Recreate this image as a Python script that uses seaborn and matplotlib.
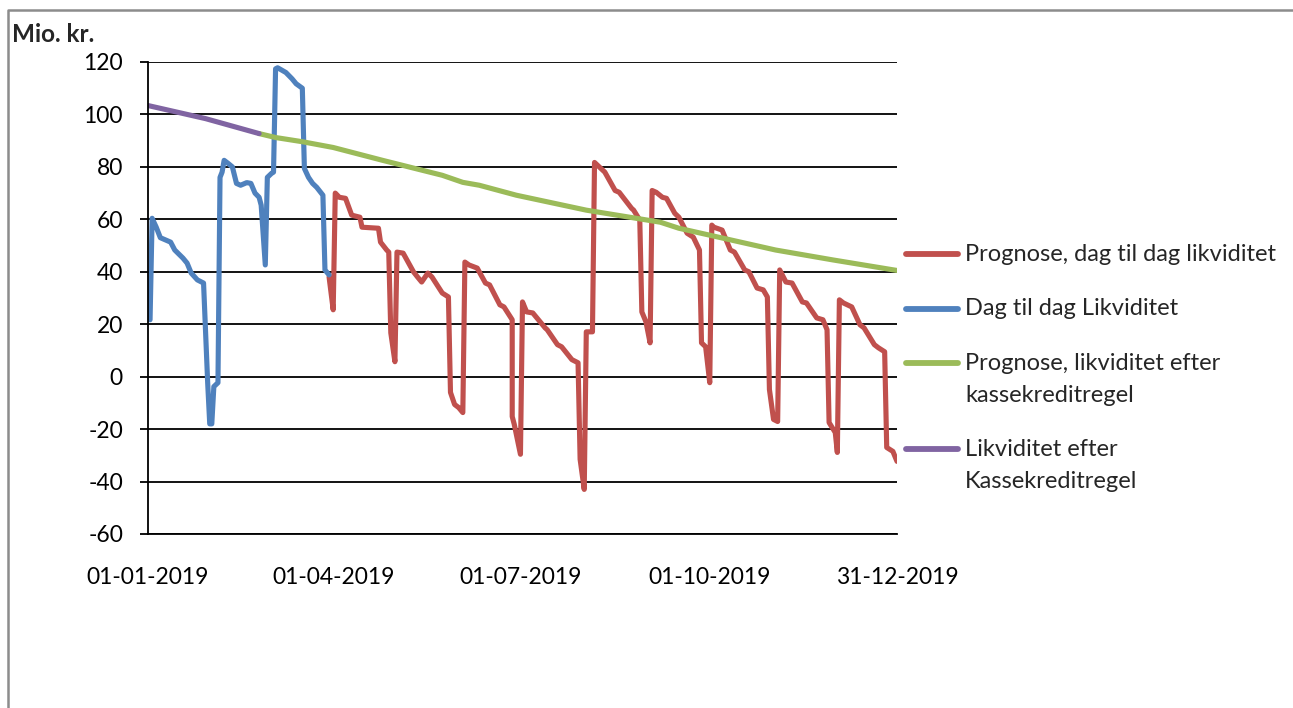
import pandas as pd
import matplotlib
matplotlib.use("Agg")
import matplotlib.pyplot as plt
import matplotlib.dates as mdates
from matplotlib.lines import Line2D
import seaborn as sns

# Day offsets from 01-01-2019 and values (Mio. kr.)
blue_days = [1, 2, 4, 6, 11, 13, 17, 19, 21, 24, 27, 29, 30, 31, 32, 34, 35, 36, 37, 39,
             41, 43, 45, 48, 50, 52, 54, 55, 57, 58, 60, 61, 62, 63, 67, 70, 72, 75, 76,
             78, 80, 82, 85, 86, 88]
blue_vals = [21.7, 60.4, 57, 53, 51.3, 48.3, 45.2, 43.3, 39.5, 36.9, 35.7, -2.3, -18, -18,
             -3.8, -2.3, 76, 78, 82.5, 81.3, 80, 73.7, 73, 74, 73.7, 70, 68.4, 65.4, 42.6,
             76, 77.5, 78, 117.4, 117.8, 116, 113.6, 111.7, 110, 79.4, 76, 73.7, 72.2, 69.2,
             40.7, 38.8]

red_days = [88, 90, 91, 93, 96, 99, 103, 104, 112, 113, 116, 117, 118, 120, 121, 124, 129,
            131, 133, 136, 138, 143, 146, 147, 149, 151, 153, 154, 156, 160, 164, 166, 171,
            173, 177, 177, 178, 181, 182, 184, 187, 193, 194, 199, 201, 206, 209, 210, 212,
            213, 216, 217, 222, 227, 229, 235, 236, 239, 240, 242, 244, 245, 247, 250, 252,
            256, 258, 262, 265, 268, 269, 271, 273, 274, 275, 279, 283, 285, 290, 292, 296,
            299, 301, 302, 304, 306, 307, 310, 313, 318, 320, 325, 328, 330, 331, 334, 335,
            336, 338, 342, 346, 348, 353, 355, 358, 359, 362, 364]
red_vals = [38, 25.5, 70, 68.4, 68, 61.6, 60.8, 57, 56.6, 51.3, 48.3, 47.5, 16.7, 5.7, 47.5,
            47.1, 40, 38, 36.1, 39.5, 38, 31.9, 30.4, -6, -10.6, -11.8, -13.7, 43.7, 42.6,
            41.4, 35.7, 35, 27.4, 26.6, 21.7, -15.2, -18.2, -29.6, 28.5, 24.7, 24.3, 18.6,
            17.9, 12.2, 11.4, 6.5, 5.3, -31.5, -43, 17.1, 17.1, 81.7, 78, 71, 70.3, 64.2,
            63.5, 59.7, 24.7, 20.9, 12.9, 71, 70.3, 68.4, 68, 62.3, 60.8, 54.7, 53.2, 48.3,
            12.9, 11.4, -2.3, 57.8, 57, 55.9, 48.3, 47.5, 40.7, 40, 33.8, 33.1, 30.4, -4.9,
            -16.3, -17.1, 40.7, 36.1, 35.7, 28.5, 28.1, 22.4, 21.7, 17.9, -17.5, -21.3,
            -28.9, 29.3, 28.1, 26.6, 19.8, 18.6, 12.2, 11, 9.5, -27, -28.5, -32.3]

green_days = [54, 62, 75, 90, 114, 143, 153, 161, 179, 213, 249, 258, 305, 333, 364]
green_vals = [92.7, 91.2, 89.6, 87.4, 82.5, 76.8, 74.1, 73, 69.2, 63.5, 58.9, 56.6, 48.3,
              44.5, 40.5]

purple_days = [0, 28, 54]
purple_vals = [103.4, 98.4, 92.7]

labels = ["Prognose, dag til dag likviditet", "Dag til dag Likviditet",
          "Prognose, likviditet efter\nkassekreditregel", "Likviditet efter\nKassekreditregel"]
colors = ["#C0504D", "#4F81BD", "#9BBB59", "#8064A2"]
tick_dates = ["2019-01-01", "2019-04-01", "2019-07-01", "2019-10-01", "2019-12-31"]

start = pd.Timestamp("2019-01-01")


def to_frame(days, vals):
    return pd.DataFrame({"date": start + pd.to_timedelta(days, unit="D"), "value": vals})


series = [to_frame(red_days, red_vals), to_frame(blue_days, blue_vals),
          to_frame(green_days, green_vals), to_frame(purple_days, purple_vals)]

sns.set_style("white")
plt.rcParams["font.family"] = ["Lato", "DejaVu Sans"]
plt.rcParams["axes.unicode_minus"] = False

W, H = 1293, 708
fig = plt.figure(figsize=(W / 100, H / 100), dpi=100)
ax = fig.add_axes([148 / W, 1 - 534 / H, 749 / W, 472 / H])

for df, lab, col in zip(series, labels, colors):
    sns.lineplot(data=df, x="date", y="value", ax=ax, color=col, linewidth=3.7,
                 estimator=None, sort=False, legend=False)

ax.set_xlim(start, pd.Timestamp("2019-12-31"))
ax.set_ylim(-60, 120)
ax.set_yticks(range(-60, 121, 20))
ax.set_xticks(pd.to_datetime(tick_dates))
ax.xaxis.set_major_formatter(mdates.DateFormatter("%d-%m-%Y"))
ax.yaxis.grid(True, color="black", linewidth=1.3)
ax.set_axisbelow(True)
ax.set_xlabel("")
ax.set_ylabel("")
for s in ["top", "right"]:
    ax.spines[s].set_visible(False)
for s in ["left", "bottom"]:
    ax.spines[s].set_color("black")
    ax.spines[s].set_linewidth(1.3)
ax.tick_params(axis="y", which="both", left=True, length=6, width=1.3, color="black",
               pad=12, labelsize=16.5, labelcolor="black")
ax.tick_params(axis="x", which="both", bottom=False, length=0, pad=24, labelsize=16.5,
               labelcolor="black")

fig.text(12 / W, 1 - 34 / H, "Mio. kr.", fontsize=17.5, fontweight="bold",
         ha="left", va="center")

# legend: key on the first line of each label
legend_y = [254, 309, 363, 449]
for lab, col, y in zip(labels, colors, legend_y):
    fig.add_artist(Line2D([906 / W, 958 / W], [1 - y / H, 1 - y / H], color=col,
                          linewidth=4.2, transform=fig.transFigure))
    for i, line in enumerate(lab.split("\n")):
        fig.text(965 / W, 1 - (y + 32 * i) / H, line, fontsize=17,
                 ha="left", va="center")

# grey frame lines along top and left of the picture
fig.add_artist(Line2D([8 / W, 8 / W, 1], [0, 1 - 10 / H, 1 - 10 / H],
                      color="#8c8c8c", linewidth=1.8, transform=fig.transFigure))

fig.savefig("out.png", dpi=100)
plt.close(fig)
